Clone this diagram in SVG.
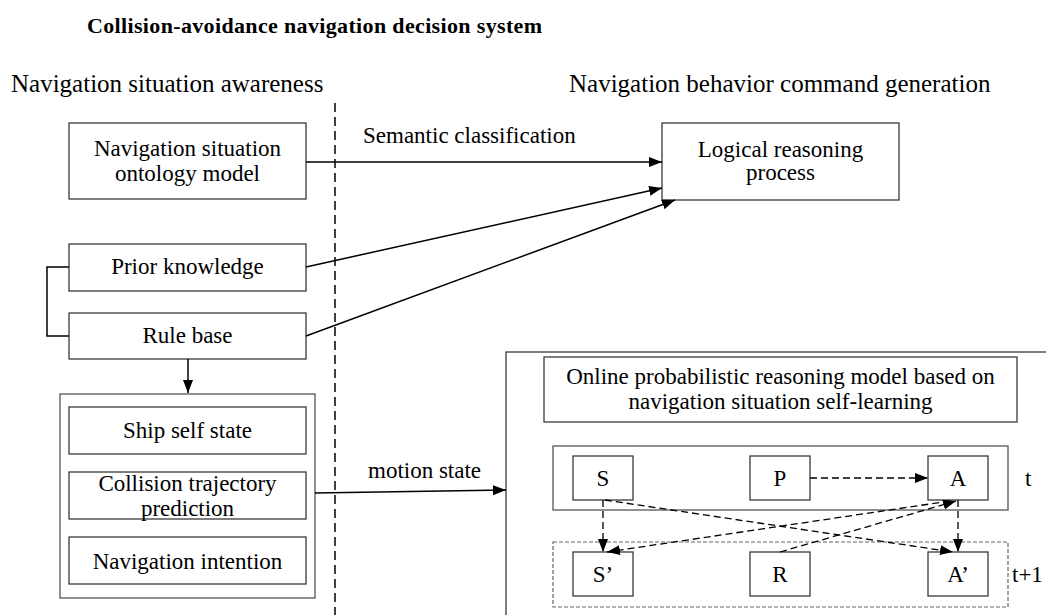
<svg xmlns="http://www.w3.org/2000/svg" width="1046" height="615" viewBox="0 0 1046 615">
<defs>
<style>
.bg{fill:#fff}
.box{fill:none;stroke:#3a3a3a;stroke-width:1.3}
.gbox{fill:none;stroke:#555;stroke-width:1.3}
.dbox{fill:none;stroke:#666;stroke-width:1.2;stroke-dasharray:4 2}
.t{font-family:"Liberation Serif","Times New Roman",serif;font-size:23px;fill:#000;text-anchor:middle}
.s{text-anchor:start}
.h{font-size:25px;text-anchor:start}
.title{font-family:"Liberation Serif","Times New Roman",serif;font-size:22px;font-weight:bold;fill:#000}
.ln{fill:none;stroke:#000;stroke-width:1.5}
.dl{fill:none;stroke:#000;stroke-width:1.3;stroke-dasharray:7 4}
.sep{fill:none;stroke:#000;stroke-width:1.5;stroke-dasharray:9 5}
</style>
<marker id="ah" markerUnits="userSpaceOnUse" markerWidth="14" markerHeight="11" refX="13" refY="5" orient="auto">
<path d="M0,0 L13,5 L0,10 z" fill="#000"/>
</marker>
</defs>
<rect class="bg" x="0" y="0" width="1046" height="615"/>

<text class="title" x="87" y="33" textLength="455" lengthAdjust="spacing">Collision-avoidance navigation decision system</text>
<text class="t h" x="11" y="92">Navigation situation awareness</text>
<text class="t h" x="569" y="92">Navigation behavior command generation</text>
<path class="sep" d="M335,103 V615"/>

<g id="ontology">
<rect class="box" x="69" y="123" width="237" height="76"/>
<text class="t" x="187.5" y="156">Navigation situation</text>
<text class="t" x="187.5" y="181">ontology model</text>
</g>
<g id="logical">
<rect class="box" x="662" y="123" width="237" height="77"/>
<text class="t" x="780.5" y="157">Logical reasoning</text>
<text class="t" x="780.5" y="180">process</text>
</g>
<g id="prior">
<rect class="box" x="69" y="244" width="237" height="47"/>
<text class="t" x="187.5" y="274">Prior knowledge</text>
</g>
<g id="rule">
<rect class="box" x="69" y="313" width="237" height="46"/>
<text class="t" x="187.5" y="343">Rule base</text>
</g>
<g id="perception">
<rect class="gbox" x="60" y="394" width="255" height="204"/>
<g id="ship">
<rect class="box" x="69" y="407" width="237" height="47"/>
<text class="t" x="187.5" y="438">Ship self state</text>
</g>
<g id="collision">
<rect class="box" x="69" y="472" width="237" height="47"/>
<text class="t" x="187.5" y="491">Collision trajectory</text>
<text class="t" x="187.5" y="516">prediction</text>
</g>
<g id="intention">
<rect class="box" x="69" y="537" width="237" height="47"/>
<text class="t" x="187.5" y="569">Navigation intention</text>
</g>
</g>

<g id="online-model">
<rect class="box" x="506" y="352" width="600" height="300"/>
<g id="online-title">
<rect class="box" x="544" y="357" width="473" height="65"/>
<text class="t" x="780.5" y="384">Online probabilistic reasoning model based on</text>
<text class="t" x="780.5" y="409">navigation situation self-learning</text>
</g>
<g id="step-t">
<rect class="gbox" x="553" y="446" width="455" height="64"/>
<text class="t s" x="1025" y="486">t</text>
</g>
<g id="step-t1">
<rect class="dbox" x="553" y="542" width="455" height="65"/>
<text class="t s" x="1012" y="582">t+1</text>
</g>
<g id="S"><rect class="box" x="573" y="456" width="60" height="44"/><text class="t" x="603" y="486">S</text></g>
<g id="P"><rect class="box" x="750" y="456" width="60" height="44"/><text class="t" x="780" y="486">P</text></g>
<g id="A"><rect class="box" x="928" y="456" width="60" height="44"/><text class="t" x="958" y="486">A</text></g>
<g id="S1"><rect class="box" x="573" y="552" width="60" height="44"/><text class="t" x="603" y="582">S’</text></g>
<g id="R"><rect class="box" x="750" y="552" width="60" height="44"/><text class="t" x="780" y="582">R</text></g>
<g id="A1"><rect class="box" x="928" y="552" width="60" height="44"/><text class="t" x="958" y="582">A’</text></g>
</g>

<g id="connectors">
<path class="ln" d="M306,162 L662,162" marker-end="url(#ah)"/>
<text class="t s" x="363" y="143">Semantic classification</text>
<path class="ln" d="M306,267 L662,188" marker-end="url(#ah)"/>
<path class="ln" d="M306,336 L675,200" marker-end="url(#ah)"/>
<path class="ln" d="M69,267 H47 V336 H69"/>
<path class="ln" d="M188,359 V393" marker-end="url(#ah)"/>
<path class="ln" d="M315,493 L506,490" marker-end="url(#ah)"/>
<text class="t s" x="368" y="478">motion state</text>
<path class="dl" d="M810,478 L928,478" marker-end="url(#ah)"/>
<path class="dl" d="M603,500 V552" marker-end="url(#ah)"/>
<path class="dl" d="M958,500 V552" marker-end="url(#ah)"/>
<path class="dl" d="M605,500 L953,552" marker-end="url(#ah)"/>
<path class="dl" d="M950,501 L607,552" marker-end="url(#ah)"/>
<path class="dl" d="M780,552 L956,501" marker-end="url(#ah)"/>
</g>
</svg>
